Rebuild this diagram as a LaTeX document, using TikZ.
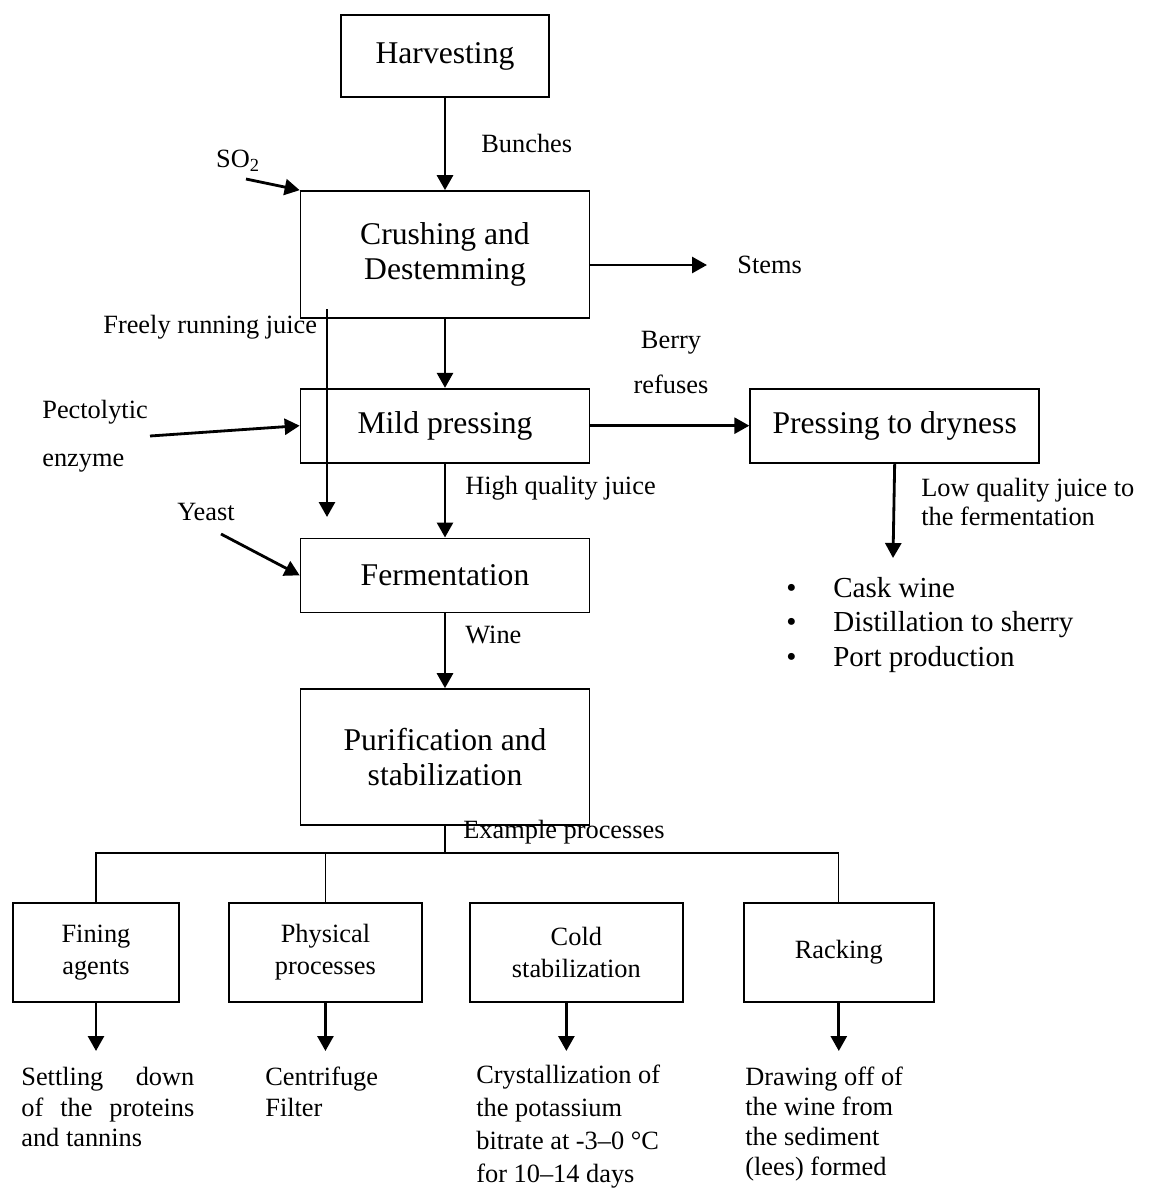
\documentclass[tikz,border=0pt]{standalone}
\usepackage{fontspec}
\setmainfont{Liberation Serif}
\usetikzlibrary{arrows.meta, positioning}
\tikzset{
    stage/.style   ={rectangle, draw=black, line width=0.95pt, minimum width=5.78cm, inner sep=0pt, align=center, font=\fontsize{18}{20.4}\selectfont},
    substage/.style={rectangle, draw=black, line width=1.1pt, minimum height=1.98cm, inner sep=0pt, align=center, font=\fontsize{15}{18.1}\selectfont},
    lbl/.style     ={inner sep=0pt, font=\fontsize{15}{17}\selectfont},
    outtext/.style ={inner sep=0pt, anchor=north west, align=left},
    flowarrow/.style={-{Triangle[length=3mm, width=3.2mm]}, line width=1.6pt},
    branch/.style  ={line width=0.6pt},
}
\begin{document}
\begin{tikzpicture}[x=0.2mm, y=-0.2mm]
    \useasboundingbox (0,0) rectangle (1150,1189);
    \node[stage, minimum width=4.16cm, minimum height=1.64cm] (harv) at (445,56) {Harvesting};
    \node[stage, minimum height=2.54cm] (crush) at (445,254.5) {Crushing and\\Destemming};
    \node[stage, minimum height=1.48cm, below=1.38cm of crush] (mild) {Mild pressing};
    \node[stage, minimum height=1.48cm, right=3.18cm of mild] (dry) {Pressing to dryness};
    \node[stage, minimum height=1.48cm, below=1.48cm of mild] (ferm) {Fermentation};
    \node[stage, minimum height=2.72cm, below=1.5cm of ferm] (purif) {Purification and\\stabilization};

    \node[substage, minimum width=3.32cm] (fin) at (96,952.5) {Fining\\agents};
    \node[substage, minimum width=3.86cm, right=0.96cm of fin] (phys) {Physical\\processes};
    \node[substage, minimum width=4.26cm, right=0.92cm of phys] (cold) {Cold\\stabilization};
    \node[substage, minimum width=3.8cm, right=1.18cm of cold] (rack) {Racking};

    \node[lbl] (so2) at (238,161) {SO\textsubscript{2}};
    \node[lbl, anchor=west] (bunch) at (481,143) {Bunches};
    \node[lbl, anchor=west] (stems) at (737,265) {Stems};
    \node[lbl, anchor=west] (freely) at (103,327) {Freely running juice};
    \node[lbl, align=center, font=\fontsize{15}{25.5}\selectfont] (berry) at (671,362.5) {Berry\\refuses};
    \node[lbl, anchor=west, align=left, font=\fontsize{15}{27.2}\selectfont] (pect) at (42,436) {Pectolytic\\enzyme};
    \node[lbl, anchor=west] (hq) at (465,488) {High quality juice};
    \node[lbl, anchor=west] (yeast) at (177,512) {Yeast};
    \node[lbl, anchor=west] (wine) at (465,635) {Wine};
    \node[lbl, anchor=west, align=left, font=\fontsize{15}{16.4}\selectfont] (lq) at (921,502) {Low quality juice to\\the fermentation};
    \node[lbl, anchor=west, align=left, font=\fontsize{16.5}{19.8}\selectfont] (uses) at (786,625)
        {\makebox[0.94cm][l]{\textbullet}Cask wine\\\makebox[0.94cm][l]{\textbullet}Distillation to sherry\\\makebox[0.94cm][l]{\textbullet}Port production};
    \node[lbl, anchor=west] (expl) at (463,832) {Example processes};

    \node[lbl, outtext, text width=3.46cm, align=justify, font=\fontsize{15}{17.3}\selectfont] (settle) at (21,1067)
        {Settling down\linebreak of the proteins\linebreak and tannins};
    \node[lbl, outtext, font=\fontsize{15}{17.3}\selectfont] (centr) at (265,1067) {Centrifuge\\Filter};
    \node[lbl, outtext, font=\fontsize{15}{18.7}\selectfont] (cryst) at (476,1065)
        {Crystallization of\\the potassium\\bitrate at -3–0 °C\\for 10–14 days};
    \node[lbl, outtext, font=\fontsize{15}{17}\selectfont] (drawoff) at (745,1067)
        {Drawing off of\\the wine from\\the sediment\\(lees) formed};

    \coordinate (so2s) at (246,179);
    \coordinate (frtop) at (327,309);
    \coordinate (frend) at (327,517);
    \coordinate (pects) at (150,436);
    \coordinate (yeasts) at (221,534);
    \coordinate (dryend) at (893,558);
    \coordinate (bus) at (445,853);
    \coordinate (ends) at (0,1051);

    \draw[flowarrow] (harv.south) -- (crush.north);
    \draw[flowarrow] (so2s) -- (crush.north west);
    \draw[flowarrow] (crush.east |- stems.west) -- ([xshift=-0.6cm]stems.west);
    \draw[flowarrow] (crush.south) -- (mild.north);
    \draw[flowarrow] (frtop) -- (frend);
    \draw[flowarrow] (pects) -- (mild.west);
    \draw[flowarrow] (mild.east) -- (dry.west);
    \draw[flowarrow] (mild.south) -- (ferm.north);
    \draw[flowarrow] (yeasts) -- (ferm.west);
    \draw[flowarrow] (ferm.south) -- (purif.north);
    \draw[flowarrow] (dry.south) -- (dryend);

    \draw[branch] (purif.south) -- (bus);
    \draw[branch] (fin.north) |- (bus) -| (rack.north);
    \draw[branch] (phys.north) -- (phys.north |- bus);

    \draw[flowarrow] (fin.south) -- (fin.south |- ends);
    \draw[flowarrow] (phys.south) -- (phys.south |- ends);
    \draw[flowarrow] ([xshift=-0.2cm]cold.south) -- ([xshift=-0.2cm]cold.south |- ends);
    \draw[flowarrow] (rack.south) -- (rack.south |- ends);
\end{tikzpicture}
\end{document}
